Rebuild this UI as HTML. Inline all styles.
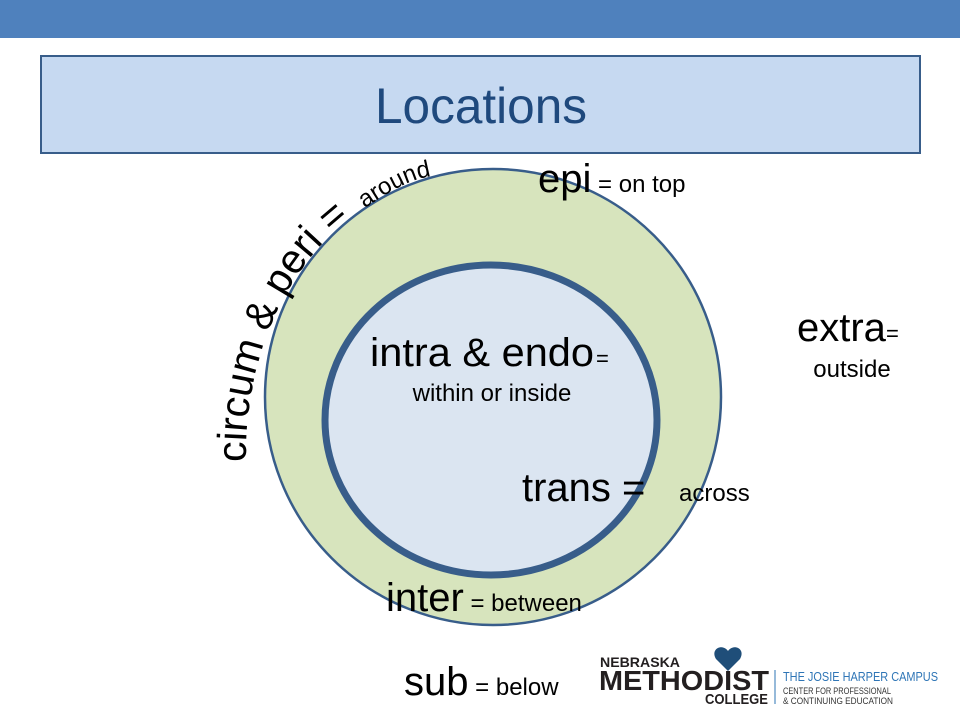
<!DOCTYPE html>
<html><head><meta charset="utf-8"><style>
body{margin:0;width:960px;height:720px;overflow:hidden;background:#fff;font-family:"Liberation Sans",sans-serif}
</style></head><body>
<svg width="960" height="720" viewBox="0 0 960 720" xmlns="http://www.w3.org/2000/svg" font-family="Liberation Sans, sans-serif">
<rect x="0" y="0" width="960" height="38" fill="#4f81bd"/>
<rect x="41" y="56" width="879" height="97" fill="#c6d9f1" stroke="#385d8a" stroke-width="2"/>
<text x="481" y="123" font-size="50" fill="#1f497d" text-anchor="middle" textLength="212" lengthAdjust="spacingAndGlyphs">Locations</text>
<circle cx="493" cy="397" r="228" fill="#d7e4bd" stroke="#385d8a" stroke-width="2.5"/>
<ellipse cx="491" cy="420" rx="166" ry="155" fill="#dbe5f1" stroke="#385d8a" stroke-width="7"/>
<defs><path id="arc" d="M 246 462 C 244 360 285 265 355 215 S 430 180 470 172"/></defs>
<text font-size="41" fill="#000"><textPath href="#arc">circum &amp; peri =</textPath></text>
<text font-size="24" fill="#000"><textPath href="#arc" startOffset="292">around</textPath></text>
<text x="538" y="192" font-size="40">epi<tspan font-size="24"> = on top</tspan></text>
<text x="797" y="341" font-size="40">extra<tspan font-size="22">=</tspan></text>
<text x="852" y="377" font-size="24" text-anchor="middle">outside</text>
<text x="370" y="366" font-size="40" textLength="224" lengthAdjust="spacingAndGlyphs">intra &amp; endo</text>
<text x="596" y="366" font-size="22">=</text>
<text x="492" y="401" font-size="24" text-anchor="middle">within or inside</text>
<text x="522" y="501" font-size="40">trans =</text>
<text x="679" y="501" font-size="24">across</text>
<text x="386" y="611" font-size="40">inter<tspan font-size="24"> = between</tspan></text>
<text x="404" y="695" font-size="40">sub<tspan font-size="24"> = below</tspan></text>
<g font-weight="bold" fill="#231f20">
<text x="600" y="667" font-size="14" textLength="80" lengthAdjust="spacingAndGlyphs">NEBRASKA</text>
<text x="599" y="690" font-size="28" textLength="170" lengthAdjust="spacingAndGlyphs">METHODIST</text>
<text x="705" y="704" font-size="15" textLength="63" lengthAdjust="spacingAndGlyphs">COLLEGE</text>
</g>
<path d="M728 651 c-6-8-18-2-12 8 l12 12 l12-12 c6-10-6-16-12-8z" fill="#1f4e79"/>
<line x1="775" y1="670" x2="775" y2="704" stroke="#2e75b6" stroke-width="1"/>
<text x="783" y="681" font-size="13" fill="#2e75b6" textLength="155" lengthAdjust="spacingAndGlyphs">THE JOSIE HARPER CAMPUS</text>
<text x="783" y="694" font-size="9" fill="#333" textLength="108" lengthAdjust="spacingAndGlyphs">CENTER FOR PROFESSIONAL</text>
<text x="783" y="704" font-size="9" fill="#333" textLength="110" lengthAdjust="spacingAndGlyphs">&amp; CONTINUING EDUCATION</text>
</svg>
</body></html>
